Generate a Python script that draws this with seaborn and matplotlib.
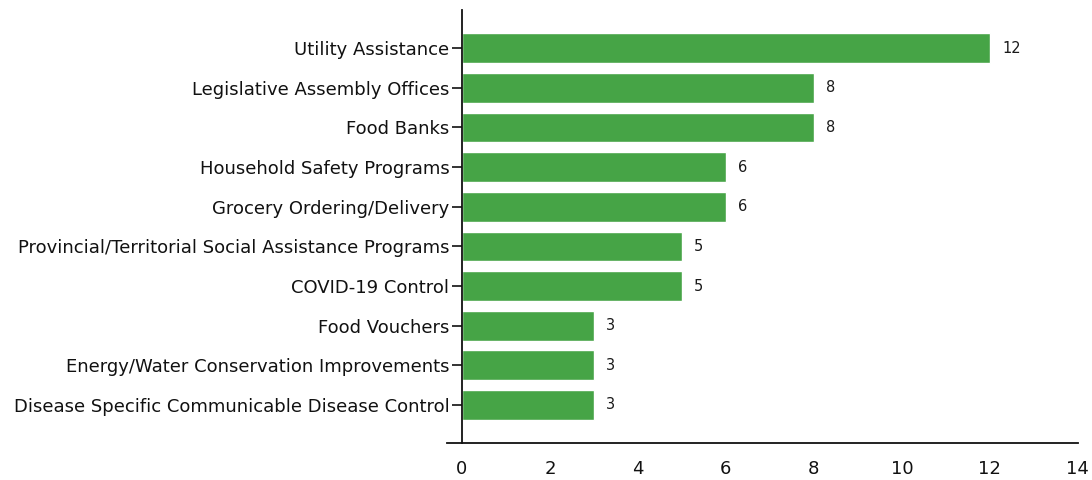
import matplotlib
matplotlib.use("Agg")
import matplotlib.pyplot as plt
import seaborn as sns
import pandas as pd

categories = [
    "Utility Assistance",
    "Legislative Assembly Offices",
    "Food Banks",
    "Household Safety Programs",
    "Grocery Ordering/Delivery",
    "Provincial/Territorial Social Assistance Programs",
    "COVID-19 Control",
    "Food Vouchers",
    "Energy/Water Conservation Improvements",
    "Disease Specific Communicable Disease Control",
]
values = [12, 8, 8, 6, 6, 5, 5, 3, 3, 3]
x_ticks = [0, 2, 4, 6, 8, 10, 12, 14]

sns.set_theme(style="white")
plt.rcParams["font.family"] = ["DejaVu Sans"]

df = pd.DataFrame({"category": categories, "value": values})

fig = plt.figure(figsize=(10.92, 4.8), dpi=100)
ax = fig.add_axes([0.423, 0.077, 0.564, 0.902])
sns.barplot(data=df, x="value", y="category", color="#46a446", saturation=1,
            width=0.75, ax=ax, orient="h")

for i, v in enumerate(values):
    ax.text(v + 0.28, i, str(v), va="center", ha="left", fontsize=10.5,
            color="#1a1a1a", fontweight="medium")

ax.set_xlim(0, 14)
ax.set_ylim(9.96, -0.96)
ax.set_xticks(x_ticks)
ax.set_xlabel("")
ax.set_ylabel("")
ax.tick_params(axis="x", bottom=False, length=0, labelsize=13, pad=12, colors="#111111")
ax.tick_params(axis="y", left=True, length=7, width=1.2, labelsize=13, pad=2,
               colors="#111111")
for s in ["top", "right"]:
    ax.spines[s].set_visible(False)
for s in ["left", "bottom"]:
    ax.spines[s].set_color("#111111")
    ax.spines[s].set_linewidth(1.3)
ax.spines["bottom"].set_bounds(-0.33, 14)

fig.savefig("out.png", dpi=100)
